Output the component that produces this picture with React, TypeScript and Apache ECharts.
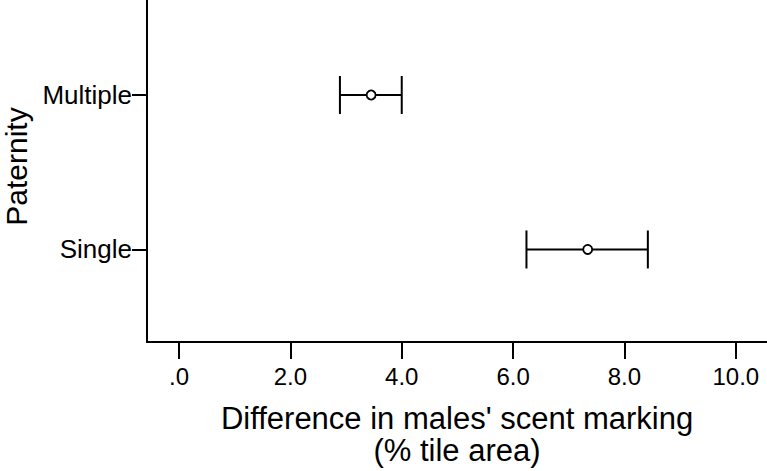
import React, { useEffect, useRef } from "react";
import * as echarts from "echarts";

const categories = ["Single", "Multiple"];
const means = [7.34, 3.45];
const lower = [6.24, 2.89];
const upper = [8.42, 4.0];
const xTicks = [0, 2, 4, 6, 8, 10];

const FONT = "'Liberation Sans', Arial, sans-serif";

export default function App() {
  const ref = useRef<HTMLDivElement>(null);
  useEffect(() => {
    if (!ref.current) return;
    const chart = echarts.init(ref.current, null, { renderer: "svg" });
    const catPos = categories.map((_, i) => i + 1);
    const option: any = {
      animation: false,
      backgroundColor: "#fff",
      textStyle: { fontFamily: FONT, color: "#000" },
      grid: { left: 147, right: 0, top: 0, bottom: 125.5, containLabel: false },
      xAxis: {
        type: "value",
        min: -0.575,
        max: 10.56,
        name: "Difference in males' scent marking\n(% tile area)",
        nameLocation: "middle",
        nameGap: 60,
        nameTextStyle: { fontSize: 31, lineHeight: 32, color: "#000", fontFamily: FONT },
        axisLine: { show: true, onZero: false, lineStyle: { color: "#000", width: 2 } },
        axisTick: { show: true, length: 17, customValues: xTicks, lineStyle: { color: "#000", width: 2 } },
        axisLabel: {
          customValues: xTicks,
          margin: 22,
          fontSize: 24,
          color: "#000",
          fontFamily: FONT,
          formatter: (v: number) => (v === 0 ? ".0" : v.toFixed(1)),
        },
        splitLine: { show: false },
      },
      yAxis: {
        type: "value",
        min: 0.401,
        max: 2.615,
        axisLine: { show: true, onZero: false, lineStyle: { color: "#000", width: 2 } },
        axisTick: { show: true, length: 15, customValues: catPos, lineStyle: { color: "#000", width: 2 } },
        axisLabel: {
          customValues: catPos,
          margin: 15,
          fontSize: 26,
          color: "#000",
          fontFamily: FONT,
          formatter: (v: number) => categories[Math.round(v) - 1] ?? "",
        },
        splitLine: { show: false },
      },
      graphic: [
        {
          type: "text",
          x: 16.5,
          y: 166.5,
          rotation: Math.PI / 2,
          style: {
            text: "Paternity",
            fontSize: 30,
            fontFamily: FONT,
            fill: "#000",
            textAlign: "center",
            textVerticalAlign: "middle",
          },
        },
      ],
      series: [
        {
          type: "custom",
          data: categories.map((_, i) => [lower[i], upper[i], i + 1]),
          encode: { x: [0, 1], y: 2 },
          z: 2,
          renderItem: (params: any, api: any) => {
            const y = api.value(2);
            const p1 = api.coord([api.value(0), y]);
            const p2 = api.coord([api.value(1), y]);
            const h = 19;
            const st = { stroke: "#000", lineWidth: 2 };
            return {
              type: "group",
              children: [
                { type: "line", shape: { x1: p1[0], y1: p1[1], x2: p2[0], y2: p2[1] }, style: st },
                { type: "line", shape: { x1: p1[0], y1: p1[1] - h, x2: p1[0], y2: p1[1] + h }, style: st },
                { type: "line", shape: { x1: p2[0], y1: p2[1] - h, x2: p2[0], y2: p2[1] + h }, style: st },
              ],
            };
          },
        },
        {
          type: "scatter",
          data: categories.map((_, i) => [means[i], i + 1]),
          symbol: "circle",
          symbolSize: 9,
          z: 3,
          itemStyle: { color: "#fff", borderColor: "#000", borderWidth: 1.8, opacity: 1 },
        },
      ],
    };
    chart.setOption(option);
    return () => chart.dispose();
  }, []);
  return (
    <div
      ref={ref}
      style={{ position: "fixed", left: 0, top: 0, width: 767, height: 471, background: "#fff" }}
    />
  );
}
